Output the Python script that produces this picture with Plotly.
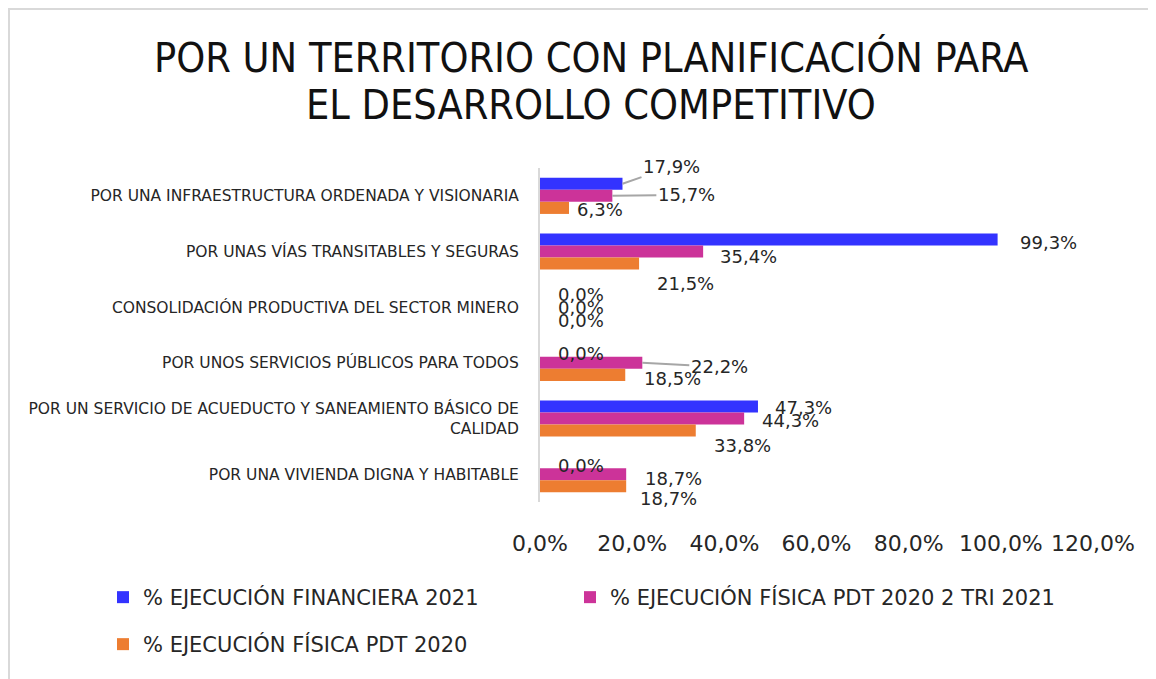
import plotly.graph_objects as go

categorias = [
    "POR UNA INFRAESTRUCTURA ORDENADA Y VISIONARIA",
    "POR UNAS VÍAS TRANSITABLES Y SEGURAS",
    "CONSOLIDACIÓN PRODUCTIVA DEL SECTOR MINERO",
    "POR UNOS SERVICIOS PÚBLICOS PARA TODOS",
    "POR UN SERVICIO DE ACUEDUCTO Y SANEAMIENTO BÁSICO DE<br>CALIDAD",
    "POR UNA VIVIENDA DIGNA Y HABITABLE",
]
ejec_financiera_2021 = [17.9, 99.3, 0.0, 0.0, 47.3, 0.0]
ejec_fisica_2tri_2021 = [15.7, 35.4, 0.0, 22.2, 44.3, 18.7]
ejec_fisica_pdt_2020 = [6.3, 21.5, 0.0, 18.5, 33.8, 18.7]

nombres = [
    "% EJECUCIÓN FINANCIERA 2021",
    "% EJECUCIÓN FÍSICA PDT 2020 2 TRI 2021",
    "% EJECUCIÓN FÍSICA PDT 2020",
]
colores = ["#3333ff", "#cc3399", "#ed7d31"]
series = [ejec_financiera_2021, ejec_fisica_2tri_2021, ejec_fisica_pdt_2020]

x_ticks = [0, 20, 40, 60, 80, 100, 120]
x_ticktext = ["0,0%", "20,0%", "40,0%", "60,0%", "80,0%", "100,0%", "120,0%"]

titulo = ["POR UN TERRITORIO CON PLANIFICACIÓN PARA", "EL DESARROLLO COMPETITIVO"]

# layout in pixels (page body adds an 8px margin)
W, H = 1156, 679
L, R, T, B = 532, 71, 160, 185
plot_w = W - L - R
plot_h = H - T - B
bargap = 0.35
bar_h = plot_h / len(categorias) * (1 - bargap) / 3
bar_off = [-bar_h, 0, bar_h]

# label placement (dx from bar end, dy downward from bar centre, leader line)
label_pos = [
    [(23, -17, True), (48, -1, True), (6, 2, False)],
    [(20, 3, False), (15, 5, False), (16, 20, False)],
    [(16, -1, False), (16, 0, False), (16, 1, False)],
    [(16, 3, False), (51, 4, True), (17, 4, False)],
    [(15, 1, False), (16, 2, False), (16, 15, False)],
    [(16, 3, False), (17, 4, False), (12, 12, False)],
]

FONT = "DejaVu Sans"
FONT_C = "DejaVu Sans Condensed"

# legend item boxes: (x px, top px)
legend_pos = [(95, 569), (562, 569), (95, 616)]
legend_ids = ["legend", "legend2", "legend3"]


def px_x(p):
    return (p - L) / plot_w


def px_y(p):
    return ((H - B) - p) / plot_h


fig = go.Figure()
for k, (nombre, vals, color) in enumerate(zip(nombres, series, colores)):
    fig.add_trace(go.Bar(
        y=categorias, x=vals, name=nombre, orientation="h",
        marker=dict(color=color, line=dict(width=0)),
        legend=legend_ids[k], showlegend=True,
    ))

anns = []
for i, cat in enumerate(categorias):
    for k, vals in enumerate(series):
        v = vals[i]
        txt = f"{v:.1f}".replace(".", ",") + "%"
        dx, dy, leader = label_pos[i][k]
        common = dict(x=v, y=cat, xref="x", yref="y", text=txt,
                      font=dict(family=FONT, size=18, color="#262626"))
        if leader:
            anns.append(dict(**common, showarrow=True, arrowhead=0, arrowwidth=2,
                             arrowcolor="#a6a6a6", ax=dx + 26, ay=dy,
                             yshift=-bar_off[k], standoff=0))
        else:
            anns.append(dict(**common, showarrow=False, xanchor="left",
                             xshift=dx, yshift=-(bar_off[k] + dy)))

# two-line title, Excel-like tight line spacing
for linea, yc in zip(titulo, [50, 97]):
    anns.append(dict(text=linea, xref="paper", yref="paper", x=px_x(583), y=px_y(yc),
                     xanchor="center", yanchor="middle", showarrow=False,
                     font=dict(family=FONT_C, size=41, color="#111111")))

leg_font = dict(family=FONT, size=21, color="#262626")
legends = {}
for lid, (lx, ly) in zip(legend_ids, legend_pos):
    legends[lid] = dict(orientation="h", x=px_x(lx), xanchor="left",
                        y=px_y(ly), yanchor="top",
                        itemwidth=30, font=leg_font, bgcolor="rgba(0,0,0,0)")

fig.update_layout(
    width=W, height=H,
    margin=dict(l=L, r=R, t=T, b=B, autoexpand=False),
    paper_bgcolor="white", plot_bgcolor="white",
    showlegend=True,
    barmode="group", bargap=bargap, bargroupgap=0,
    xaxis=dict(range=[0, 120], tickvals=x_ticks, ticktext=x_ticktext, tickangle=0,
               showgrid=False, zeroline=False, showline=False,
               tickfont=dict(family=FONT, size=22, color="#262626"),
               ticklabelstandoff=26),
    yaxis=dict(autorange="reversed", showgrid=False, zeroline=False,
               showline=True, linecolor="#d9d9d9", linewidth=2,
               tickfont=dict(family=FONT, size=15.5, color="#262626"),
               ticklabelstandoff=16),
    annotations=anns,
    shapes=[dict(type="rect", xref="paper", yref="paper",
                 x0=px_x(1), x1=px_x(W + 20), y0=px_y(H + 20), y1=px_y(1),
                 line=dict(color="#d9d9d9", width=2), layer="below")],
    **legends,
)

fig.write_html("out.html")
